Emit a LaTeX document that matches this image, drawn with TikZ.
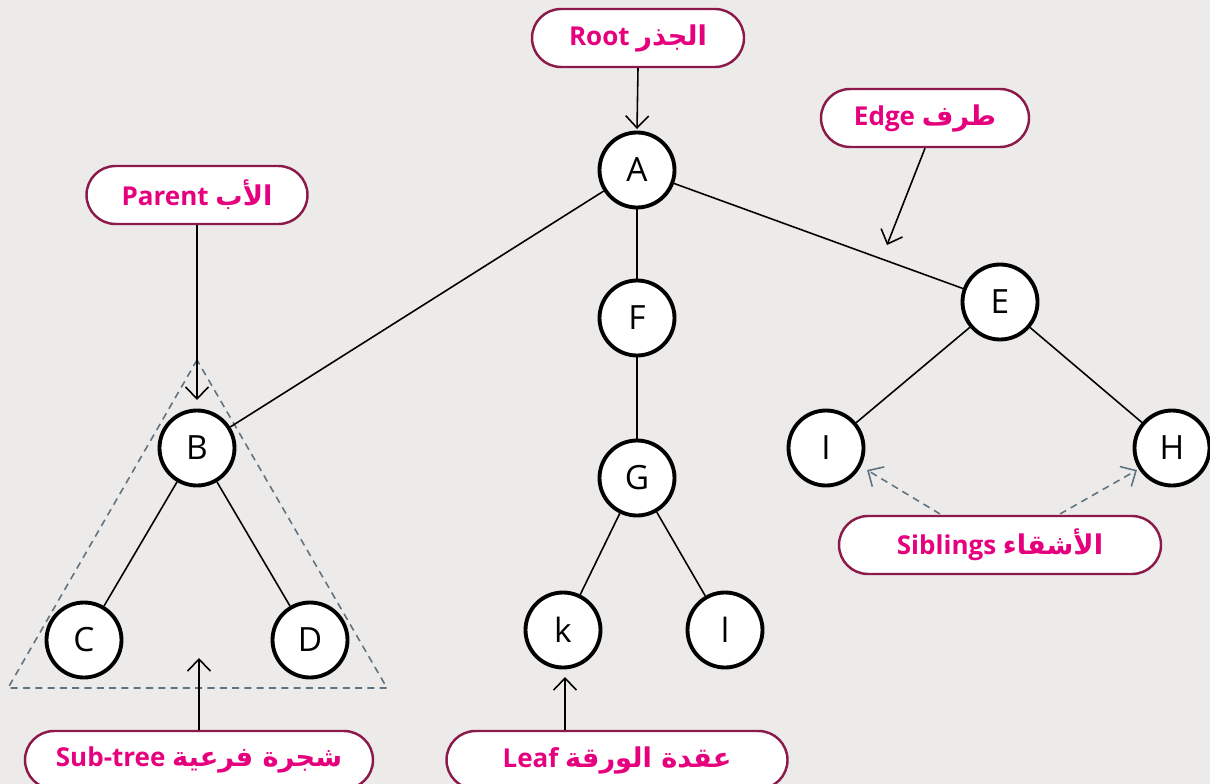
\documentclass[tikz,border=0pt]{standalone}
\usepackage{fontspec}
\setmainfont{Open Sans}
\newfontfamily\arabicfont[Script=Arabic]{DejaVu Sans}
\TeXXeTstate=1
\usetikzlibrary{arrows.meta}
\definecolor{bgc}{HTML}{EDEBE9}
\definecolor{pinkt}{HTML}{E6007E}
\definecolor{boxb}{HTML}{8B1A4A}
\definecolor{dashc}{HTML}{5F7380}
\tikzset{
  tnode/.style={circle, draw=black, line width=2.2pt, fill=white, minimum size=75*0.02cm, inner sep=0pt, font=\fontsize{19}{21}\selectfont},
  lbl/.style={rounded corners=29*0.02cm, draw=boxb, line width=1.4pt, fill=white, minimum height=58*0.02cm, inner sep=0pt, text=pinkt, font=\bfseries\fontsize{14.8}{17}\selectfont},
  edg/.style={line width=0.9pt, black},
  arr/.style={line width=0.9pt, black, -{Straight Barb[length=2.4mm,width=4.6mm]}},
  sib/.style={line width=0.9pt, dashc, dash pattern=on 4pt off 3pt, -{Straight Barb[length=2.4mm,width=4.6mm]}},
}
\newcommand{\ar}[1]{{\arabicfont\bfseries\fontsize{15.5}{17}\selectfont\beginR #1\endR}}
\begin{document}
\begin{tikzpicture}[x=0.02cm, y=-0.02cm]
\useasboundingbox (0,0) rectangle (1210,784);
\fill[bgc] (0,0) rectangle (1210,784);
\clip (0,0) rectangle (1210,784);
% subtree triangle
\draw[dashc, line width=0.9pt, dash pattern=on 4pt off 3pt] (197,360) -- (8,688) -- (387,688) -- cycle;
% tree nodes
\node[tnode] (A) at (637,170) {A};
\node[tnode] (F) at (637,318) {F};
\node[tnode] (G) at (637,478) {G};
\node[tnode] (k) at (563,630) {k};
\node[tnode] (l) at (725,630) {l};
\node[tnode] (E) at (1000,302) {E};
\node[tnode] (I) at (826,448) {I};
\node[tnode] (H) at (1172,448) {H};
\node[tnode] (B) at (197,448) {B};
\node[tnode] (C) at (84,640) {C};
\node[tnode] (D) at (310,640) {D};
% edges
\draw[edg] (A) -- (B);
\draw[edg] (A) -- (F);
\draw[edg] (A) -- (E);
\draw[edg] (F) -- (G);
\draw[edg] (G) -- (k);
\draw[edg] (G) -- (l);
\draw[edg] (E) -- (I);
\draw[edg] (E) -- (H);
\draw[edg] (B) -- (C);
\draw[edg] (B) -- (D);
% labels
\node[lbl, minimum width=212*0.02cm] (root) at (638,38) {Root \ar{الجذر}};
\node[lbl, minimum width=208*0.02cm] (edge) at (925,118) {Edge \ar{طرف}};
\node[lbl, minimum width=221*0.02cm] (parent) at (197,195) {Parent \ar{الأب}};
\node[lbl, minimum width=322*0.02cm] (sib) at (1000,545) {Siblings \ar{الأشقاء}};
\node[lbl, minimum width=348*0.02cm] (sub) at (199,760) {Sub-tree \ar{شجرة فرعية}};
\node[lbl, minimum width=341*0.02cm] (leaf) at (617,760) {Leaf \ar{عقدة الورقة}};
% pointer arrows
\coordinate (edgetip) at (887,245);
\coordinate (subtip) at (199,658);
\coordinate (parenttip) at (197,400);
\coordinate (roottip) at (637,129);
\coordinate (leaftip) at (565,677);
\draw[arr] (edge.south) -- (edgetip);
\draw[arr] (root.south) -- (roottip);
\draw[arr] (parent.south) -- (parenttip);
\draw[arr] (sub.north) -- (subtip);
\draw[arr] (leaf.north -| leaftip) -- (leaftip);
\coordinate (sibL) at (940,514);
\coordinate (sibR) at (1060,514);
\coordinate (sibLtip) at (867,470);
\coordinate (sibRtip) at (1137,470);
\draw[sib] (sibL) -- (sibLtip);
\draw[sib] (sibR) -- (sibRtip);
\end{tikzpicture}
\end{document}
